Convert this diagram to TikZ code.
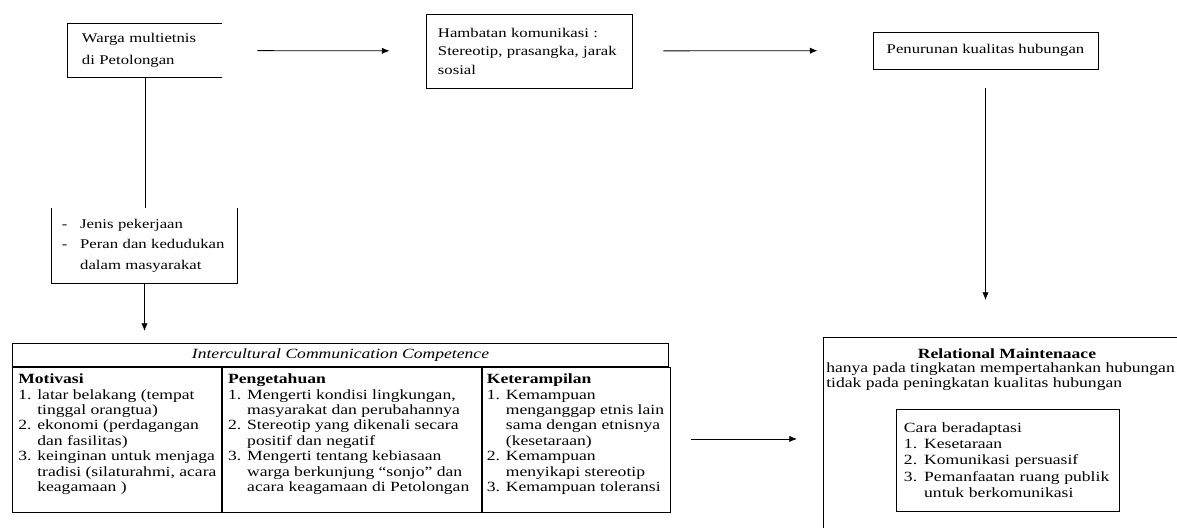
\documentclass[tikz,border=0pt]{standalone}
\usepackage{fontspec}
\setmainfont{Liberation Serif}[FakeStretch=1.25]
\usetikzlibrary{positioning,arrows.meta}

\tikzset{
  box/.style={draw, line width=0.6pt, inner sep=0pt},
  txt/.style={inner sep=0pt, align=left, anchor=north west},
  arr/.style={line width=0.6pt, -{Latex[length=5.5pt,width=4.5pt]}},
  tab/.style={font=\fontsize{10}{10.95}\selectfont},
}

\begin{document}
\begin{tikzpicture}[x=0.025cm, y=-0.025cm]
\useasboundingbox (0,0) rectangle (1177,527);

% top row
\node[minimum width=3.85cm, minimum height=1.325cm, text width=3.15cm, align=left, inner sep=0pt, font=\fontsize{9.5}{16}\selectfont] (warga) at (145,50.5) {Warga multietnis\\di Petolongan};
\draw[line width=0.6pt] (warga.north east) -- (warga.north west) -- (warga.south west) -- (warga.south east);

\node[box, minimum width=5.15cm, minimum height=1.85cm, text width=4.55cm, align=left, font=\fontsize{9.5}{13.2}\selectfont] (hambatan) at (529,51) {Hambatan komunikasi :\\Stereotip, prasangka, jarak\\sosial};

\node[box, minimum width=5.625cm, minimum height=0.925cm, font=\fontsize{9.5}{11}\selectfont] (penurunan) at (985.5,50.5) {Penurunan kualitas hubungan};

% left branch
\node[minimum width=4.625cm, minimum height=1.875cm, text width=4.125cm, align=left, inner sep=0pt, font=\fontsize{9.5}{14.6}\selectfont] (peran) at (144.5,245.5) {-\hspace{9pt}Jenis pekerjaan\\-\hspace{9pt}Peran dan kedudukan\\\phantom{-}\hspace{9pt}dalam masyarakat};
\draw[line width=0.6pt] (peran.north west) -- (peran.south west) -- (peran.south east) -- (peran.north east);

% table ICC
\node[box, minimum width=16.4cm, minimum height=0.575cm, anchor=north west, font=\fontsize{10}{11}\selectfont\itshape] (icchead) at (12,343) {Intercultural Communication Competence};
\node[box, minimum width=5.225cm, minimum height=3.625cm, anchor=north west] (motivasi) at (icchead.south west) {};
\node[box, minimum width=6.475cm, minimum height=3.625cm, right=0pt of motivasi] (pengetahuan) {};
\node[box, minimum width=4.7cm, minimum height=3.625cm, right=0pt of pengetahuan] (keterampilan) {};

\node[txt, tab] (motivasitxt) at ([xshift=0.15cm, yshift=-0.17cm]motivasi.north west) {\textbf{Motivasi}\\1. latar belakang (tempat\\\phantom{1. }tinggal orangtua)\\2. ekonomi (perdagangan\\\phantom{2. }dan fasilitas)\\3. keinginan untuk menjaga\\\phantom{3. }tradisi (silaturahmi, acara\\\phantom{3. }keagamaan )};
\node[txt, tab] (pengetahuantxt) at ([xshift=0.15cm, yshift=-0.17cm]pengetahuan.north west) {\textbf{Pengetahuan}\\1. Mengerti kondisi lingkungan,\\\phantom{1. }masyarakat dan perubahannya\\2. Stereotip yang dikenali secara\\\phantom{2. }positif dan negatif\\3. Mengerti tentang kebiasaan\\\phantom{3. }warga berkunjung ``sonjo'' dan\\\phantom{3. }acara keagamaan di Petolongan};
\node[txt, tab] (keterampilantxt) at ([xshift=0.12cm, yshift=-0.17cm]keterampilan.north west) {\textbf{Keterampilan}\\1. Kemampuan\\\phantom{1. }menganggap etnis lain\\\phantom{1. }sama dengan etnisnya\\\phantom{1. }(kesetaraan)\\2. Kemampuan\\\phantom{2. }menyikapi stereotip\\3. Kemampuan toleransi};

% relational maintenance (runs off the page)
\node[box, minimum width=9.175cm, minimum height=5.075cm, anchor=north west] (relational) at (823,337) {};
\node[inner sep=0pt, font=\fontsize{10}{11}\selectfont\bfseries] (reltitle) at ([yshift=-0.42cm]relational.north) {Relational Maintenaace};
\node[txt, font=\fontsize{10}{10.9}\selectfont] (reltxt) at ([xshift=0.075cm, yshift=-0.64cm]relational.north west) {hanya pada tingkatan mempertahankan hubungan\\tidak pada peningkatan kualitas hubungan};
\node[box, minimum width=5.575cm, minimum height=2.55cm, text width=5.175cm, align=left, font=\fontsize{10}{11.6}\selectfont] (cara) at (1007.5,460) {Cara beradaptasi\\1. Kesetaraan\\2. Komunikasi persuasif\\3. Pemanfaatan ruang publik\\\phantom{3. }untuk berkomunikasi};

% connectors
\draw[arr, shorten <=0.875cm, shorten >=0.9cm] (warga) -- (hambatan);
\draw[arr, shorten <=0.775cm, shorten >=1.375cm] (hambatan) -- (penurunan);
\draw[arr, shorten <=0.475cm, shorten >=0.925cm] (penurunan.south) -- (penurunan.south |- relational.north);
\draw[line width=0.6pt] (warga.south) -- (warga.south |- peran.north);
\draw[arr, shorten >=0.3cm] (peran.south) -- (peran.south |- icchead.north);
\draw[arr, shorten <=0.5cm, shorten >=0.65cm] (keterampilan.east |- relational.west) -- (relational.west);
\end{tikzpicture}
\end{document}
